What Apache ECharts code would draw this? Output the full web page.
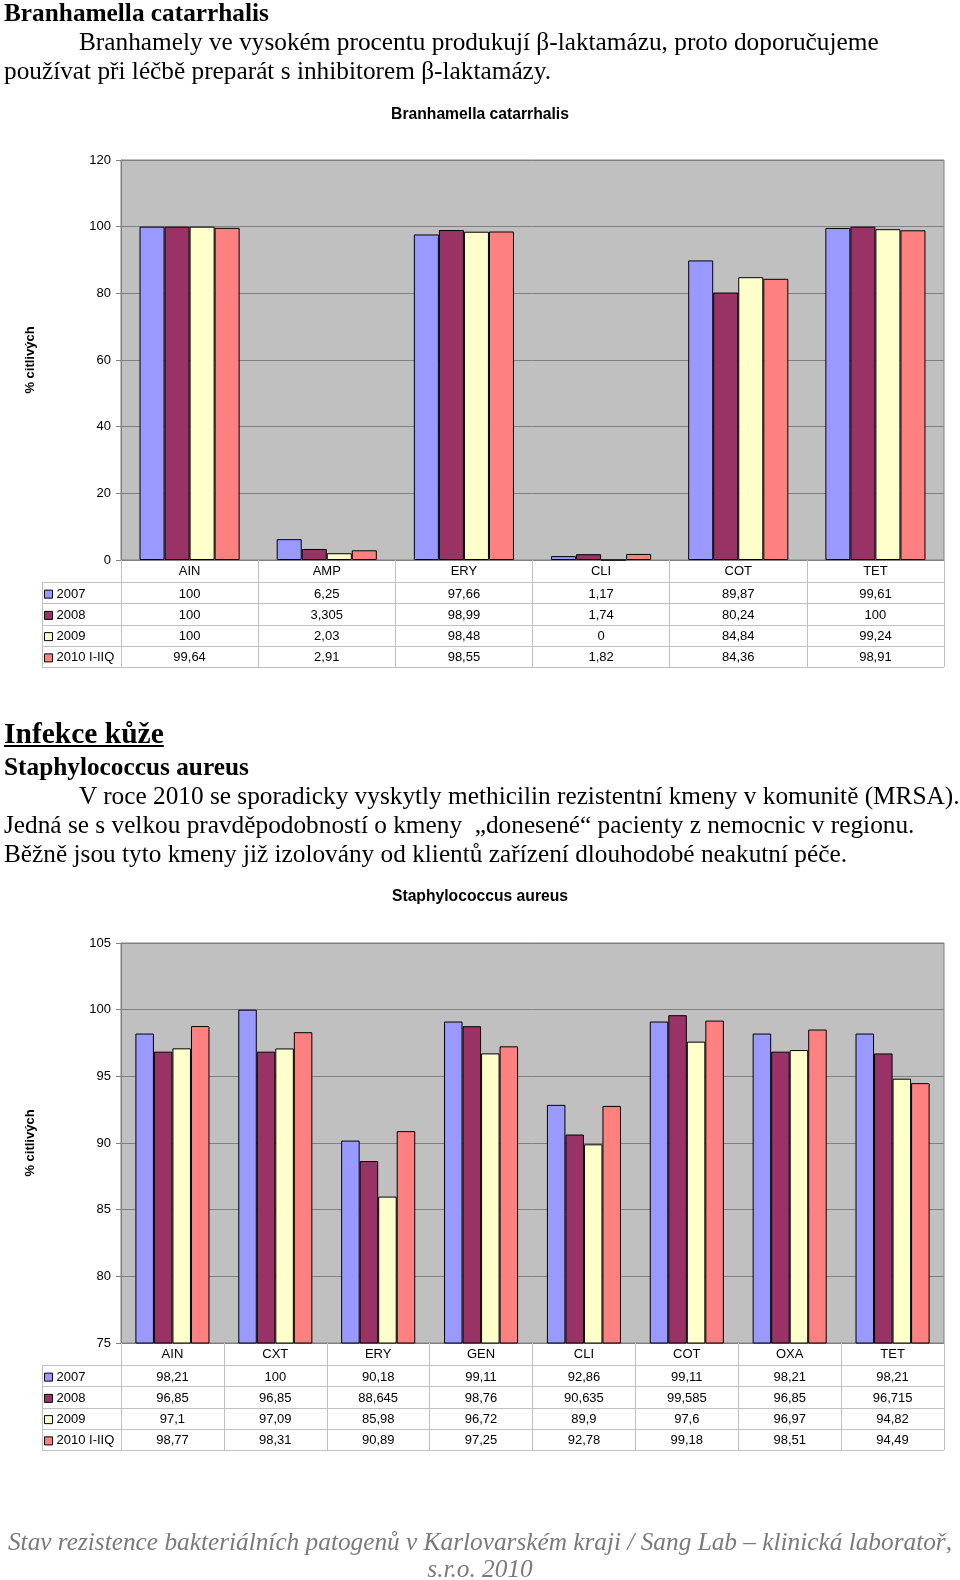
<!DOCTYPE html>
<html>
<head>
<meta charset="utf-8">
<script src="https://cdn.jsdelivr.net/npm/echarts@6/dist/echarts.min.js"></script>
<style>
  html, body { margin: 0; padding: 0; background: #fff; }
  #page { position: relative; width: 960px; height: 1580px; overflow: hidden; }
  #chart { position: absolute; left: 0; top: 0; width: 960px; height: 1580px; }
  .t { position: absolute; white-space: pre; font-family: "Liberation Serif", "Times New Roman", serif; color: #000; font-size: 25.3px; line-height: 30px; }
  .b { font-weight: bold; }
  .foot { font-style: italic; color: #7a7a7a; left: 0; width: 960px; text-align: center; }
</style>
</head>
<body>
<div id="page">
  <div id="chart"></div>
  <div class="t b" style="left:4px; top:-3px; font-size:25.3px;">Branhamella catarrhalis</div>
  <div class="t" style="left:79px; top:26px;">Branhamely ve vysokém procentu produkují β-laktamázu, proto doporučujeme</div>
  <div class="t" style="left:4px; top:55px;">používat při léčbě preparát s inhibitorem β-laktamázy.</div>

  <div class="t b" style="left:4px; top:716px; font-size:29.5px; line-height:34px; text-decoration:underline;">Infekce kůže</div>
  <div class="t b" style="left:4px; top:751px; font-size:25.3px;">Staphylococcus aureus</div>
  <div class="t" style="left:79px; top:780px;">V roce 2010 se sporadicky vyskytly methicilin rezistentní kmeny v komunitě (MRSA).</div>
  <div class="t" style="left:4px; top:809px;">Jedná se s velkou pravděpodobností o kmeny  „donesené“ pacienty z nemocnic v regionu.</div>
  <div class="t" style="left:4px; top:838px;">Běžně jsou tyto kmeny již izolovány od klientů zařízení dlouhodobé neakutní péče.</div>

  <div class="t foot" style="top:1526px;">Stav rezistence bakteriálních patogenů v Karlovarském kraji / Sang Lab – klinická laboratoř,</div>
  <div class="t foot" style="top:1553px;">s.r.o. 2010</div>
</div>
<script>
// ---------- DATA ----------
const years = ['2007', '2008', '2009', '2010 I-IIQ'];

const bcTitle = 'Branhamella catarrhalis';
const bcCats = ['AIN', 'AMP', 'ERY', 'CLI', 'COT', 'TET'];
const bc2007 = [100, 6.25, 97.66, 1.17, 89.87, 99.61];
const bc2008 = [100, 3.305, 98.99, 1.74, 80.24, 100];
const bc2009 = [100, 2.03, 98.48, 0, 84.84, 99.24];
const bc2010 = [99.64, 2.91, 98.55, 1.82, 84.36, 98.91];
const bcAxis = { min: 0, max: 120, interval: 20 };

const saTitle = 'Staphylococcus aureus';
const saCats = ['AIN', 'CXT', 'ERY', 'GEN', 'CLI', 'COT', 'OXA', 'TET'];
const sa2007 = [98.21, 100, 90.18, 99.11, 92.86, 99.11, 98.21, 98.21];
const sa2008 = [96.85, 96.85, 88.645, 98.76, 90.635, 99.585, 96.85, 96.715];
const sa2009 = [97.1, 97.09, 85.98, 96.72, 89.9, 97.6, 96.97, 94.82];
const sa2010 = [98.77, 98.31, 90.89, 97.25, 92.78, 99.18, 98.51, 94.49];
const saAxis = { min: 75, max: 105, interval: 5 };

const yName = '% citlivých';

// ---------- STYLE / LAYOUT ----------
const colors = ['#9999FF', '#993366', '#FFFFCC', '#FF8080'];
const FONT = '"Liberation Sans", Arial, sans-serif';
const GRID_LEFT = 121, GRID_W = 823, GRID_H = 400;
const HEAD_H = 22, ROW_H = 21.25;
const TABLE_LEFT = 42;
const LINE_COL = '#C0C0C0';

const fmt = v => String(v).replace('.', ',');

const charts = [
  { title: bcTitle, titleY: 102, top: 160, cats: bcCats, vals: [bc2007, bc2008, bc2009, bc2010], axis: bcAxis, gap: '27%' },
  { title: saTitle, titleY: 884, top: 943, cats: saCats, vals: [sa2007, sa2008, sa2009, sa2010], axis: saAxis, gap: '28%' }
];

const option = {
  animation: false,
  backgroundColor: 'transparent',
  textStyle: { fontFamily: FONT },
  title: [], grid: [], xAxis: [], yAxis: [], series: [], legend: [], graphic: []
};

charts.forEach((c, g) => {
  const tableTop = c.top + GRID_H;
  const tableBottom = tableTop + HEAD_H + ROW_H * years.length;
  option.title.push({
    text: c.title, left: 'center', top: c.titleY,
    textStyle: { fontFamily: FONT, fontSize: 15.7, fontWeight: 'bold', color: '#000' }
  });
  option.grid.push({
    left: GRID_LEFT, top: c.top, width: GRID_W, height: GRID_H,
    show: true, backgroundColor: '#C0C0C0', borderColor: '#808080', borderWidth: 1
  });
  const mainX = option.xAxis.length;
  option.xAxis.push({
    gridIndex: g, type: 'category', data: c.cats, position: 'bottom',
    axisLine: { show: true, lineStyle: { color: '#808080', width: 1 } },
    axisTick: { show: true, interval: 0, length: tableBottom - tableTop, lineStyle: { color: LINE_COL } },
    axisLabel: { interval: 0, margin: 5, fontSize: 13, color: '#000', fontFamily: FONT },
    splitLine: { show: false }
  });
  years.forEach((y, k) => {
    option.xAxis.push({
      gridIndex: g, type: 'category', data: c.cats, position: 'bottom',
      offset: HEAD_H + ROW_H * k,
      axisLine: { show: false }, axisTick: { show: false }, splitLine: { show: false },
      axisLabel: {
        interval: 0, margin: 5.5, fontSize: 13, color: '#000', fontFamily: FONT,
        formatter: (v, i) => fmt(c.vals[k][i])
      }
    });
  });
  option.yAxis.push({
    gridIndex: g, type: 'value', min: c.axis.min, max: c.axis.max, interval: c.axis.interval,
    axisLine: { show: true, lineStyle: { color: '#808080' } },
    axisTick: { show: true, length: 5, lineStyle: { color: '#808080' } },
    axisLabel: { margin: 10, fontSize: 13, color: '#000', fontFamily: FONT },
    splitLine: { show: true, lineStyle: { color: '#808080', width: 1 } },
    name: yName, nameLocation: 'middle', nameRotate: 90, nameGap: 84,
    nameTextStyle: { fontFamily: FONT, fontSize: 13, fontWeight: 'bold', color: '#000' }
  });
  years.forEach((y, k) => {
    option.series.push({
      type: 'bar', name: y, xAxisIndex: mainX, yAxisIndex: g,
      data: c.vals[k], barGap: '0%', barCategoryGap: c.gap,
      itemStyle: { color: colors[k], borderColor: '#000', borderWidth: 1 },
      emphasis: { disabled: true }
    });
  });
  option.legend.push({
    orient: 'vertical', left: TABLE_LEFT + 2, top: tableTop + HEAD_H + 1.5,
    itemWidth: 8, itemHeight: 8, itemGap: 0, padding: 0, selectedMode: false,
    icon: 'rect', data: years,
    itemStyle: { borderColor: '#000', borderWidth: 1 },
    textStyle: { fontFamily: FONT, fontSize: 13, color: '#000', lineHeight: ROW_H, padding: [0, 0, 0, -1] }
  });
  // table row borders
  for (let k = 0; k <= years.length; k++) {
    const y = Math.round(tableTop + HEAD_H + ROW_H * k) + 0.5;
    option.graphic.push({
      type: 'line', silent: true,
      shape: { x1: TABLE_LEFT, y1: y, x2: GRID_LEFT + GRID_W, y2: y },
      style: { stroke: LINE_COL, lineWidth: 1 }
    });
  }
  option.graphic.push({
    type: 'line', silent: true,
    shape: { x1: TABLE_LEFT + 0.5, y1: tableTop + HEAD_H, x2: TABLE_LEFT + 0.5, y2: tableBottom },
    style: { stroke: LINE_COL, lineWidth: 1 }
  });
});

const chart = echarts.init(document.getElementById('chart'), null, { renderer: 'canvas' });
chart.setOption(option);
</script>
</body>
</html>
